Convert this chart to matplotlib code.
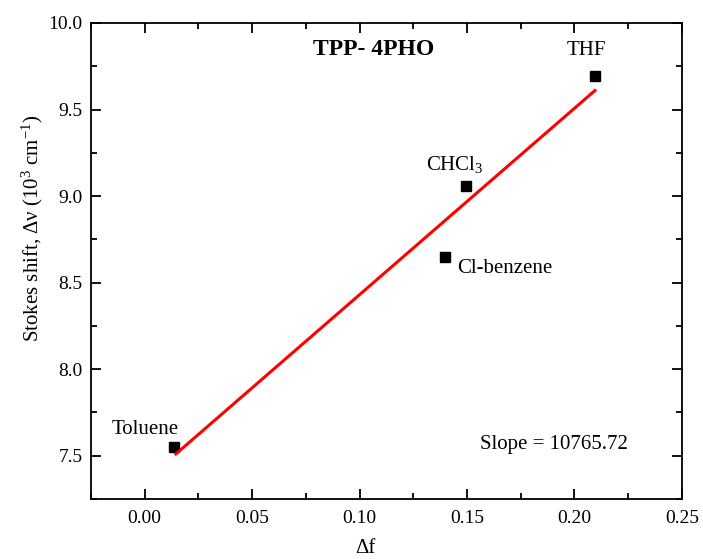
import numpy as np
import matplotlib
matplotlib.use("Agg")
import matplotlib.pyplot as plt
from matplotlib.ticker import AutoMinorLocator

plt.rcParams['font.family'] = ['Liberation Serif', 'DejaVu Serif']
plt.rcParams['mathtext.fontset'] = 'custom'
plt.rcParams['mathtext.rm'] = 'Liberation Serif'
plt.rcParams['mathtext.it'] = 'Liberation Serif'

solvents = ["Toluene", "Cl-benzene", "CHCl$_3$", "THF"]
delta_f = [0.0135, 0.1397, 0.1494, 0.2095]
stokes = [7.552, 8.647, 9.058, 9.694]

# linear fit (10^3 cm^-1 per unit delta f)
slope = 10.76572
intercept = 7.354
fit_x = [0.0145, 0.2095]

fig = plt.figure(figsize=(7.03, 5.59), dpi=100)
ax = fig.add_axes([0.1294, 0.1073, 0.8406, 0.8516])

ax.plot(delta_f, stokes, 's', color='black', markersize=7.5)
fx = np.array(fit_x)
ax.plot(fx, slope * fx + intercept, color='red', lw=2.2)

ax.set_xlim(-0.025, 0.25)
ax.set_ylim(7.25, 10.0)
ax.set_xticks([0.0, 0.05, 0.10, 0.15, 0.20, 0.25])
ax.set_yticks([7.5, 8.0, 8.5, 9.0, 9.5, 10.0])
ax.xaxis.set_major_formatter(plt.FormatStrFormatter('%.2f'))
ax.yaxis.set_major_formatter(plt.FormatStrFormatter('%.1f'))
ax.xaxis.set_minor_locator(AutoMinorLocator(2))
ax.yaxis.set_minor_locator(AutoMinorLocator(2))
ax.tick_params(which='both', direction='in', top=True, right=True, width=1.3, labelsize=14)
ax.tick_params(axis='x', pad=8)
ax.tick_params(axis='y', pad=6)
ax.tick_params(which='major', length=7)
ax.tick_params(which='minor', length=4)
for s in ax.spines.values():
    s.set_linewidth(1.3)

ax.set_xlabel('Δf', fontsize=15)
ax.xaxis.set_label_coords(0.465, -0.084)
ax.set_ylabel('Stokes shift, Δν (10$^{3}$ cm$^{-1}$)', fontsize=15)
ax.yaxis.set_label_coords(-0.078, 0.569)

ax.text(0.1066, 9.844, 'TPP- 4PHO', fontsize=17, fontweight='bold', ha='center', va='center')
ax.text(0.0, 7.65, solvents[0], fontsize=15, ha='center', va='center')
ax.text(0.1453, 8.584, solvents[1], fontsize=15, ha='left', va='center')
ax.text(0.1445, 9.18, solvents[2], fontsize=15, ha='center', va='center')
ax.text(0.2055, 9.84, solvents[3], fontsize=15, ha='center', va='center')
ax.text(0.1904, 7.564, 'Slope = 10765.72', fontsize=15, ha='center', va='center')

fig.savefig('out.png', dpi=100)
